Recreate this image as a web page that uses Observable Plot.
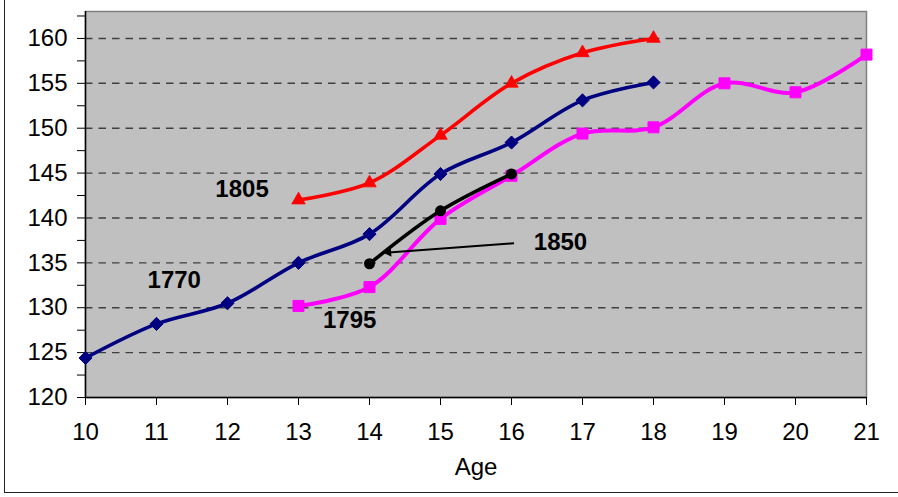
<!DOCTYPE html>
<html>
<head>
<meta charset="utf-8">
<script src="https://cdn.jsdelivr.net/npm/d3@7"></script>
<script src="https://cdn.jsdelivr.net/npm/@observablehq/plot@0.6"></script>
<style>
  body { margin: 0; background: white; }
  #wrap { position: relative; width: 898px; height: 497px; overflow: hidden; }
  #outer { position: absolute; left: 4px; top: -5px; width: 905px; height: 498px;
           border-left: 1.5px solid #222; border-bottom: 1.5px solid #222; box-sizing: border-box; pointer-events: none; }
</style>
</head>
<body>
<div id="wrap"><div id="outer"></div></div>
<script>
// Data
const ages1770 = [10, 11, 12, 13, 14, 15, 16, 17, 18];
const heights1770 = [124.4, 128.2, 130.5, 135.0, 138.2, 144.9, 148.4, 153.1, 155.1];
const ages1805 = [13, 14, 15, 16, 17, 18];
const heights1805 = [142.0, 143.9, 149.2, 155.0, 158.4, 160.0];
const ages1795 = [13, 14, 15, 16, 17, 18, 19, 20, 21];
const heights1795 = [130.2, 132.3, 139.9, 144.7, 149.4, 150.1, 155.0, 154.0, 158.2];
const ages1850 = [14, 15, 16];
const heights1850 = [134.9, 140.8, 144.9];

const xTicks = [10, 11, 12, 13, 14, 15, 16, 17, 18, 19, 20, 21];
const yTicks = [120, 122.5, 125, 127.5, 130, 132.5, 135, 137.5, 140, 142.5, 145, 147.5, 150, 152.5, 155, 157.5, 160, 162.5];
const gridTicks = [125, 130, 135, 140, 145, 150, 155, 160];

const labelNames = ["1805", "1770", "1795", "1850"];
const labelAges = [12.205, 11.25, 13.72, 16.69];
const labelHeights = [143.2, 133.0, 128.64, 137.31];

const arrowFrom = {age: 16.035, height: 137.19};
const arrowTo = {age: 14.205, height: 136.11};
const arrowHead = {age: 14.27, height: 136.15};

const toRows = (ages, hs) => ages.map((a, i) => ({age: a, height: hs[i]}));
const s1770 = toRows(ages1770, heights1770);
const s1805 = toRows(ages1805, heights1805);
const s1795 = toRows(ages1795, heights1795);
const s1850 = toRows(ages1850, heights1850);
const labels = labelNames.map((t, i) => ({text: t, age: labelAges[i], height: labelHeights[i]}));

const lineW = 3.6;
const chart = Plot.plot({
  width: 898,
  height: 497,
  marginLeft: 85,
  marginRight: 32,
  marginTop: 11,
  marginBottom: 100,
  style: {fontFamily: "'Liberation Sans', Arial, sans-serif", fontSize: "24px", color: "black", background: "transparent"},
  x: {domain: [10, 21]},
  y: {domain: [120, 163]},
  marks: [
    Plot.frame({fill: "#c0c0c0", stroke: "#808080", strokeWidth: 1.5}),
    Plot.ruleY(gridTicks, {stroke: "#404040", strokeWidth: 1.4, strokeDasharray: "7.5,6"}),
    Plot.ruleX([10], {stroke: "black", strokeWidth: 1.5}),
    Plot.ruleY([120], {stroke: "black", strokeWidth: 1.5}),
    Plot.axisY({ticks: yTicks, tickSize: 8, tickPadding: 10, tickFormat: d => d % 5 === 0 ? String(d) : "", label: null, fontSize: 24}),
    Plot.axisX({ticks: xTicks, tickSize: 8, tickPadding: 17, tickFormat: d => String(d), label: null, fontSize: 24}),
    Plot.text(["Age"], {frameAnchor: "bottom", dy: 70, lineAnchor: "middle", fontSize: 24}),
    Plot.line(s1770, {x: "age", y: "height", stroke: "#000080", strokeWidth: lineW, curve: "catmull-rom"}),
    Plot.dot(s1770, {x: "age", y: "height", symbol: "diamond2", r: 5.9, fill: "#000080", stroke: "#000080", strokeWidth: 1}),
    Plot.line(s1795, {x: "age", y: "height", stroke: "#ff00ff", strokeWidth: 4, curve: "catmull-rom"}),
    Plot.dot(s1795, {x: "age", y: "height", symbol: "square", r: 6.2, fill: "#ff00ff", stroke: "#ff00ff", strokeWidth: 1}),
    Plot.line(s1805, {x: "age", y: "height", stroke: "#ff0000", strokeWidth: lineW, curve: "catmull-rom"}),
    Plot.dot(s1805, {x: "age", y: "height", symbol: "triangle", r: 5, fill: "#ff0000", stroke: "#ff0000", strokeWidth: 0.8}),
    Plot.line(s1850, {x: "age", y: "height", stroke: "black", strokeWidth: lineW, curve: "catmull-rom"}),
    Plot.dot(s1850, {x: "age", y: "height", symbol: "circle", r: 5.5, fill: "black"}),
    Plot.link([{x1: arrowFrom.age, y1: arrowFrom.height, x2: arrowHead.age, y2: arrowHead.height}],
      {x1: "x1", y1: "y1", x2: "x2", y2: "y2", stroke: "black", strokeWidth: 2}),
    Plot.dot([arrowHead], {x: "age", y: "height", symbol: "triangle", r: 3.2, fill: "black", rotate: -94.5}),
    Plot.text(labels, {x: "age", y: "height", text: "text", fontWeight: "bold", fontSize: 24, lineAnchor: "middle", fill: "black"})
  ]
});
document.getElementById("wrap").prepend(chart);
</script>
</body>
</html>
